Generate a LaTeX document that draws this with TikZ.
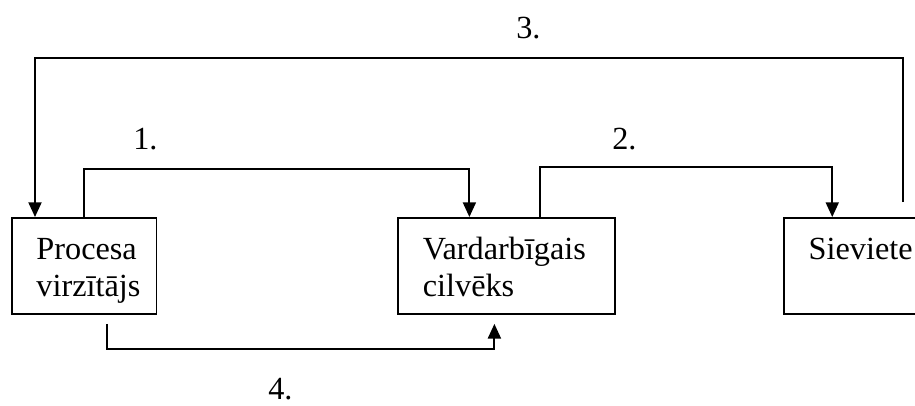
\documentclass[tikz,border=0pt]{standalone}
\usepackage{fontspec}
\setmainfont{Liberation Serif}
\usetikzlibrary{positioning, arrows.meta, calc}
\newcommand{\boxfont}{\fontsize{24.2}{27.75}\selectfont}
\newcommand{\twolines}[2]{\rule{0pt}{31.5pt}#1\\#2\rule[-12.75pt]{0pt}{12.75pt}}
\tikzset{
    agent/.style = {draw, line width=1.4pt, anchor=north west, inner xsep=18.4pt, inner ysep=0pt, align=left, font=\boxfont},
    flow/.style = {draw, line width=1.4pt, -{Triangle[length=11pt, width=9.75pt]}},
    num/.style = {anchor=base west, inner sep=0pt, font=\boxfont},
}

\begin{document}
\begin{tikzpicture}[x=0.75pt, y=-0.75pt]
    \useasboundingbox (0,0) rectangle (915,405);

    \node (pv) [agent, text width=71.6pt] at (11,217) {\twolines{Procesa}{virzītājs}};
    \node (vc) [agent, text width=125.95pt, right=180pt of pv.north east, anchor=north west] {\twolines{Vardarbīgais}{cilvēks}};
    \node (sv) [agent, text width=76.45pt, right=125.25pt of vc.north east, anchor=north west] {\twolines{Sieviete}{}};

    \node (n1) [num] at (133,149) {1.};
    \node (n2) [num] at (612,149) {2.};
    \node (n3) [num] at (516,38) {3.};
    \node (n4) [num] at (268,399) {4.};

    % ends of the connectors
    \coordinate (in1) at ($(vc.north west)+(72,0)$);
    \coordinate (out2) at ($(vc.north west)+(143,0)$);
    \coordinate (in2) at ($(sv.north west)+(49,0)$);
    \coordinate (out3) at ($(sv.north west)+(120,-15)$);
    \coordinate (in3) at ($(pv.north west)+(24,0)$);
    \coordinate (out4) at ($(pv.south west)+(96,9)$);
    \coordinate (in4) at ($(vc.south west)+(97,9)$);

    \draw[flow] (pv.north) -- ++(0,-48) -| (in1);
    \draw[flow] (out2) -- ++(0,-50) -| (in2);
    \draw[flow] (out3) -- ++(0,-144) -| (in3);
    \draw[flow] (out4) -- ++(0,25) -| (in4);
\end{tikzpicture}
\end{document}
